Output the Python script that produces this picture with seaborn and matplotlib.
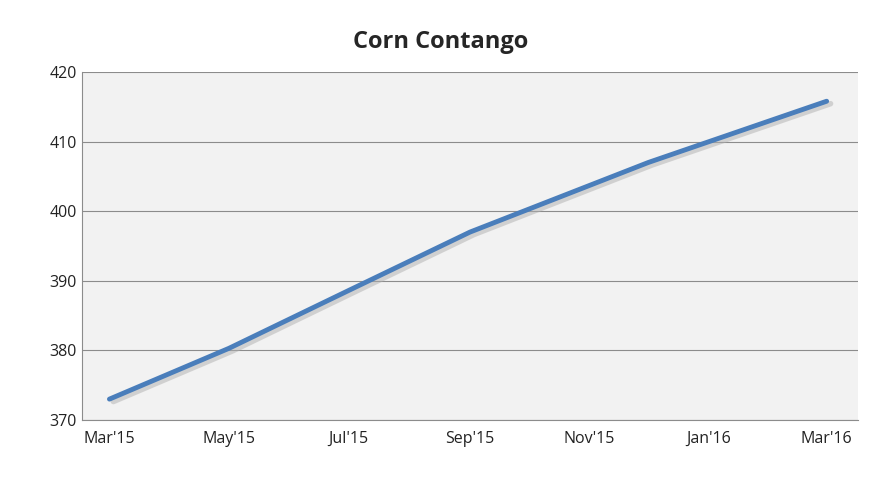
import matplotlib
matplotlib.use("Agg")
import matplotlib.pyplot as plt
import seaborn as sns
import pandas as pd

months = ["2015-03-01", "2015-05-01", "2015-07-01", "2015-09-01", "2015-12-01", "2016-03-01"]
prices = [373.0, 380.3, 388.6, 397.0, 407.0, 415.8]

df = pd.DataFrame({"month": pd.to_datetime(months), "price": prices})

sns.set_style("white")
plt.rcParams["font.family"] = ["Open Sans", "DejaVu Sans"]

fig = plt.figure(figsize=(8.82, 4.97), dpi=100)
ax = fig.add_axes([82 / 882, 1 - 420 / 497, 776 / 882, 348 / 497])
ax.set_facecolor("#f2f2f2")

# soft shadow under the line
ax.plot(df["month"] + pd.Timedelta(days=2), df["price"] - 0.35, color="#b0b0b0", lw=4, alpha=0.5, zorder=2)
sns.lineplot(data=df, x="month", y="price", ax=ax, color="#4a7ebb", lw=3.5, zorder=3)

ax.set_ylim(370, 420)
ax.set_yticks(range(370, 421, 10))
ticks = pd.date_range("2015-03-01", "2016-03-01", freq="2MS")
ax.set_xticks(ticks)
ax.set_xticklabels([t.strftime("%b'%y") for t in ticks])
ax.set_xlim(pd.Timestamp("2015-02-15"), pd.Timestamp("2016-03-17"))
ax.grid(axis="y", color="#8c8c8c", lw=0.8)
ax.set_axisbelow(True)
for s in ["top", "right"]:
    ax.spines[s].set_visible(False)
for s in ["left", "bottom"]:
    ax.spines[s].set_color("#8c8c8c")
ax.tick_params(axis="both", labelsize=11.5, colors="#222222", length=0)
ax.tick_params(axis="x", pad=8)
ax.set_xlabel("")
ax.set_ylabel("")
fig.text(0.5, 1 - 42 / 497, "Corn Contango", ha="center", va="center", fontsize=17, fontweight="bold")

fig.savefig("out.png", dpi=100)
